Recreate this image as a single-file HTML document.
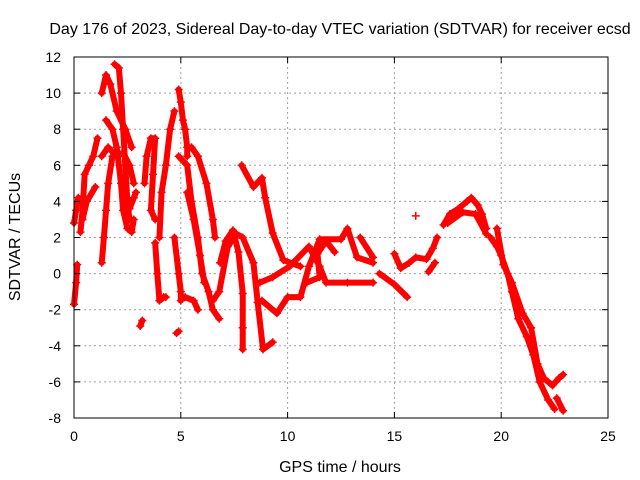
<!DOCTYPE html>
<html><head><meta charset="utf-8"><style>
body{margin:0;background:#fff}
svg{display:block;font-family:"Liberation Sans",sans-serif}
</style></head><body>
<svg id="c" width="640" height="480"></svg>
<script>
const xTicks=[0,5,10,15,20,25];
const yTicks=[-8,-6,-4,-2,0,2,4,6,8,10,12];
const trackA1=[[0,-1.7],[0.1,-0.5],[0.15,0.5]];
const trackA2=[[0,2.8],[0.1,3.5],[0.2,4.2]];
const trackB=[[0.3,2.3],[0.4,3.5],[0.5,5.5],[0.7,6],[0.9,6.5],[1.1,7.5]];
const trackB2=[[0.4,3],[0.6,4],[1.0,4.8]];
const trackC0=[[1.3,0.6],[1.4,2],[1.5,3.5],[1.6,5],[1.8,6.5]];
const trackC1=[[1.3,10],[1.5,11],[1.7,10.5],[2.0,9],[2.4,8],[2.7,7]];
const trackC2=[[1.9,11.6],[2.1,11.4],[2.2,10],[2.3,8],[2.4,6],[2.5,4],[2.6,3]];
const trackC3=[[1.3,6.5],[1.6,7],[2.0,6.5],[2.3,6.7],[2.6,6],[2.8,5]];
const trackC4=[[1.5,8.5],[1.8,8],[2.0,7],[2.2,5],[2.3,3.5],[2.5,2.5],[2.7,2.3],[2.8,3]];
const trackC5=[[2.6,3.6],[2.8,4.2],[2.9,4.5]];
const trackD=[[3.1,-2.9],[3.2,-2.6]];
const trackE=[[3.3,5],[3.4,6.5],[3.6,7.5],[3.8,7.5],[3.7,5.5],[3.6,3.5],[3.8,3]];
const trackF=[[3.8,1.7],[3.9,0],[4.0,-1.5],[4.2,-1.3],[4.3,-1.3]];
const trackG=[[4.0,2],[4.1,4.5],[4.3,6],[4.5,8],[4.7,9]];
const trackH=[[4.9,10.2],[5.0,9.5],[5.1,8.5],[5.2,8],[5.3,7],[5.3,6.5]];
const trackI=[[4.7,2],[4.9,0],[5.0,-1],[5.0,-1.5]];
const trackI2=[[4.8,-3.3],[4.9,-3.2]];
const trackJ=[[4.9,6.5],[5.3,6],[5.5,4],[5.8,2],[6.0,0],[6.3,-1],[6.5,-2],[6.8,-2.5]];
const trackJ2=[[5.3,4.5],[5.6,3],[5.9,1],[6.1,-0.5]];
const trackK=[[5.5,7],[5.8,6.5],[6.2,5],[6.5,3],[6.6,2]];
const trackL=[[5.2,-1.3],[5.6,-1.5],[5.8,-2]];
const trackM=[[6.84,0.6],[7.1,1.8],[7.44,2.4],[7.7,1.2],[7.9,-1.1],[7.9,-3],[7.9,-4.2]];
const trackM2=[[6.5,-1.5],[6.8,-1],[7.2,1.5],[7.6,2.2],[7.9,2.0],[8.4,0.6],[8.6,-1.6],[8.85,-4.2],[9.3,-3.8]];
const trackN=[[7.85,6.0],[8.4,4.8],[8.8,5.3],[8.95,4.2],[9.3,2.25],[9.8,0.75],[10.6,0.4]];
const trackO=[[8.8,-1.5],[9.5,-2.2],[10,-1.3],[10.6,-1.3],[11,0.4],[11.5,1.9],[12.5,1.9],[12.8,2.5],[13.25,0.9],[14,0.6]];
const trackP=[[8.7,-0.5],[9.3,-0.2],[10.1,0.4],[11,1.5],[11.5,0.4],[11.8,-0.5],[12.8,-0.5],[14,-0.5]];
const trackQ=[[10.9,-0.5],[11.5,-0.2],[11.4,1.1],[11.8,1.8],[12.2,1.2]];
const trackR=[[13.4,2.0],[14,0.9]];
const trackS=[[14.3,0.0],[15.0,-0.6],[15.6,-1.3]];
const trackT=[[15,1.1],[15.3,0.3],[15.7,0.6],[16,0.9],[16.5,0.8],[16.8,1.4],[17,2]];
const trackT2=[[16.6,0.1],[16.9,0.6]];
const trackU=[[16,3.2]];
const trackV=[[17.3,2.7],[17.6,3.3],[18,3.6],[18.4,4],[18.6,4.2],[18.9,3.8],[19.1,3.3],[19.3,2.5]];
const trackV2=[[17.5,2.8],[18.2,3.4],[18.8,3.3],[19.3,2.2]];
const trackW=[[19.5,2],[19.8,1.5],[20,1],[20.3,0],[20.5,-1],[20.8,-2.5],[21.2,-3.5],[21.5,-4.5],[21.8,-6],[22.2,-7],[22.5,-7.5]];
const trackW2=[[19.8,2.5],[20.1,0.5],[20.5,-0.5],[21,-2.2],[21.4,-3],[21.7,-5],[22,-5.8],[22.4,-6.2],[22.7,-5.8],[22.9,-5.6]];
const trackW3=[[22.6,-6.9],[22.9,-7.6]];
const tracks=[trackA1,trackA2,trackB,trackB2,trackC0,trackC1,trackC2,trackC3,trackC4,trackC5,trackD,trackE,trackF,trackG,trackH,trackI,trackI2,trackJ,trackJ2,trackK,trackL,trackM,trackM2,trackN,trackO,trackP,trackQ,trackR,trackS,trackT,trackT2,trackU,trackV,trackV2,trackW,trackW2,trackW3];

const NS="http://www.w3.org/2000/svg",svg=document.getElementById('c');
const L=74,R=608,T=57,B=418;
const X=t=>L+(t-0)/25*(R-L), Y=v=>B-(v+8)/20*(B-T);
function mk(tag,a,p){const e=document.createElementNS(NS,tag);for(const k in a)e.setAttribute(k,a[k]);(p||svg).appendChild(e);return e;}
xTicks.forEach(t=>{if(t>0&&t<25){const g=mk('line',{x1:X(t),x2:X(t),y1:T,y2:B,stroke:'#a0a0a0','stroke-dasharray':'2,3'});

}});
yTicks.forEach(v=>{if(v>-8&&v<12){const g=mk('line',{x1:L,x2:R,y1:Y(v),y2:Y(v),stroke:'#a0a0a0','stroke-dasharray':'2,3'});

}});
const dg=mk('g',{});


tracks.forEach(tr=>{
 if(tr.length>1){const pl=mk('polyline',{points:tr.map(p=>X(p[0])+','+Y(p[1])).join(' '),fill:'none',stroke:'#f00','stroke-width':6,'stroke-linejoin':'round','stroke-linecap':'round'},dg);
 
 }
 tr.forEach(p=>{const x=X(p[0]),y=Y(p[1]);
  const m=mk('path',{d:`M${x-4},${y}H${x+4}M${x},${y-4}V${y+4}`,stroke:'#f00','stroke-width':1.5},dg);
  
  });
});
const bd=mk('rect',{x:L,y:T,width:R-L,height:B-T,fill:'none',stroke:'#000'});


xTicks.forEach(t=>{mk('line',{x1:X(t),x2:X(t),y1:B,y2:B-6,stroke:'#000'});mk('line',{x1:X(t),x2:X(t),y1:T,y2:T+6,stroke:'#000'});
 const tx=mk('text',{x:X(t),y:B+23,'text-anchor':'middle','font-size':14});tx.textContent=t;
 
 });
yTicks.forEach(v=>{mk('line',{x1:L,x2:L+6,y1:Y(v),y2:Y(v),stroke:'#000'});mk('line',{x1:R,x2:R-6,y1:Y(v),y2:Y(v),stroke:'#000'});
 const tx=mk('text',{x:L-13,y:Y(v)+5,'text-anchor':'end','font-size':14});tx.textContent=v;
 
 });
const ti=mk('text',{x:340,y:34,'text-anchor':'middle','font-size':16});ti.textContent='Day 176 of 2023, Sidereal Day-to-day VTEC variation (SDTVAR) for receiver ecsd';


const xl=mk('text',{x:340,y:472,'text-anchor':'middle','font-size':16});xl.textContent='GPS time / hours';


const yl=mk('text',{x:0,y:0,'text-anchor':'middle','font-size':16,transform:'translate(20,237) rotate(-90)'});yl.textContent='SDTVAR / TECUs';


</script>
</body></html>
